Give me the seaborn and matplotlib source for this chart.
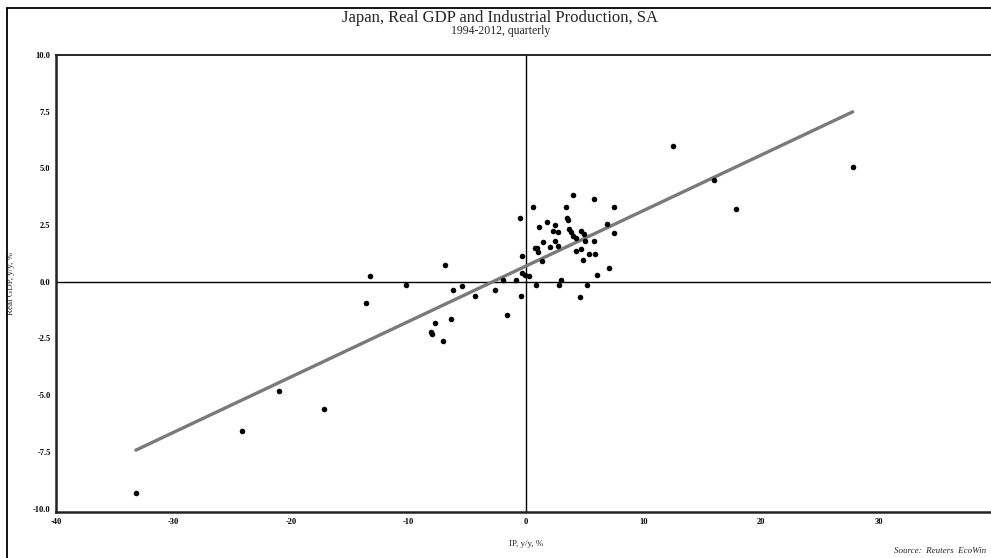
import numpy as np
import pandas as pd
import seaborn as sns
import matplotlib.pyplot as plt
from matplotlib.lines import Line2D

# IP y/y % (x) and real GDP y/y % (y)
ip_yoy = [
    -33.2, -24.2, -21.0, -17.2, -13.6, -13.3, -10.2, -7.74, -6.36, -7.97,
    -8.05, -7.09, -6.87, -6.24, -5.45, -4.34, -2.67, -1.64, -1.99, -0.88,
    -0.40, -0.37, -0.51, -0.34, -0.09, 0.23, 0.57, 0.82, 1.08, 0.74,
    0.91, 1.02, 1.42, 1.39, 1.76, 2.01, 2.50, 2.33, 2.72, 2.47,
    2.75, 3.00, 2.78, 3.40, 3.46, 3.57, 3.97, 3.66, 3.86, 4.03,
    4.26, 4.71, 4.96, 5.05, 4.28, 4.71, 4.85, 4.62, 5.22, 5.39,
    5.90, 5.76, 5.79, 6.04, 6.87, 7.06, 7.52, 7.46, 12.5, 16.0,
    17.9, 27.8,
]
gdp_yoy = [
    -9.30, -6.60, -4.80, -5.60, -0.94, 0.25, -0.13, -1.80, -1.66, -2.28,
    -2.20, -2.60, 0.75, -0.38, -0.18, -0.62, -0.34, -1.46, 0.06, 0.09,
    -0.63, 1.15, 2.81, 0.38, 0.31, 0.25, 3.30, -0.16, 2.43, 1.51,
    1.47, 1.31, 1.75, 0.90, 2.63, 1.53, 2.49, 2.25, 2.19, 1.78,
    1.60, 0.07, -0.15, 3.31, 2.81, 2.74, 3.83, 2.34, 2.19, 2.02,
    1.94, 2.24, 2.12, 1.80, 1.37, 1.43, 0.96, -0.66, -0.16, 1.22,
    1.24, 1.78, 3.65, 0.31, 2.56, 0.63, 3.28, 2.15, 6.00, 4.50,
    3.20, 5.08,
]

x_ticks = [-40, -30, -20, -10, 0, 10, 20, 30]
y_ticks = [-10.0, -7.5, -5.0, -2.5, 0.0, 2.5, 5.0, 7.5, 10.0]

title = "Japan, Real GDP and Industrial Production, SA"
subtitle = "1994-2012, quarterly"
source = "Source:  Reuters  EcoWin"


def main():
    sns.set_style("white")
    plt.rcParams['font.family'] = ['Liberation Serif', 'DejaVu Serif']
    plt.rcParams['axes.unicode_minus'] = False

    df = pd.DataFrame({'ip': ip_yoy, 'gdp': gdp_yoy})

    fig = plt.figure(figsize=(9.91, 5.58), dpi=100)
    W, H = 991, 558
    ax_h = 512 - 55
    ax = fig.add_axes([56 / W, 1 - 512 / H, 940 / W, ax_h / H])

    # zero lines
    ax.axhline(0, color='black', lw=1.0, zorder=1)
    ax.axvline(0, color='black', lw=1.0, zorder=1)

    sns.regplot(data=df, x='ip', y='gdp', ax=ax, ci=None,
                scatter_kws=dict(s=16, color='black', linewidths=0, alpha=1, zorder=3),
                line_kws=dict(color='#7a7a7a', lw=2.4, zorder=2))

    ax.set_xlim(-40, 40)
    ax.set_ylim(-10.15, 10)
    ax.set_xticks(x_ticks)
    ax.set_xticklabels([str(t) for t in x_ticks])
    ax.set_yticks(y_ticks)
    ax.set_yticklabels([f"{t:.1f}" for t in y_ticks])
    ax.tick_params(direction='out', length=2, width=1, colors='black',
                   labelsize=6, pad=2)
    for lab in ax.get_xticklabels() + ax.get_yticklabels():
        lab.set_fontweight('bold')

    for side in ['left', 'bottom']:
        ax.spines[side].set_linewidth(1.8)
        ax.spines[side].set_color('#222222')
    ax.spines['top'].set_linewidth(1.4)
    ax.spines['right'].set_linewidth(1.4)
    for sp in ax.spines.values():
        sp.set_visible(True)

    ax.set_xlabel("IP, y/y, %", fontsize=6.5)
    ax.set_ylabel("Real GDP, y/y, %", fontsize=6.5)
    ax.xaxis.set_label_coords(0.5, (512 - 540) / ax_h)
    ax.yaxis.set_label_coords((15 - 56) / 940, 0.5)

    fig.text(0.505, 1 - 18 / H, title, ha='center', va='center', fontsize=12)
    fig.text(0.505, 1 - 31 / H, subtitle, ha='center', va='center', fontsize=8.5)
    # source note kept fully inside the image
    fig.text(986 / W, 1 - 551 / H, source, ha='right', va='center',
             fontsize=6.5, style='italic')

    # outer frame (cut by the image edges)
    fig.add_artist(Line2D([7 / W, 7 / W], [0, 1 - 8 / H], color='black',
                          lw=1.3, transform=fig.transFigure))
    fig.add_artist(Line2D([7 / W, 1], [1 - 8 / H, 1 - 8 / H], color='black',
                          lw=1.3, transform=fig.transFigure))

    fig.savefig('out.png', dpi=100)
    plt.close(fig)


if __name__ == "__main__":
    main()
